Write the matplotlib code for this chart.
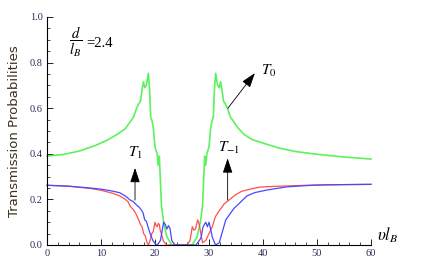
import matplotlib
matplotlib.use("Agg")
import matplotlib.pyplot as plt
from matplotlib.ticker import MultipleLocator

plt.rcParams['mathtext.fontset'] = 'stix'

# T0 (green)
gx = [0, 3, 6, 9, 11, 13, 14.5, 16, 16.6, 17.0, 17.3, 17.6, 17.85, 18.1, 18.4, 18.77, 19.0, 19.2,
      19.45, 19.7, 20.0, 20.4, 20.6, 20.8, 21.2, 21.6, 22.2, 23.1,
      26.9, 27.8, 28.4, 28.8, 29.2, 29.4, 29.6, 30.0, 30.3, 30.55, 30.8, 31.0, 31.23, 31.6, 31.9,
      32.15, 32.4, 32.7, 33.0, 33.4, 34.0, 35.5, 36.5, 38, 40, 43, 46, 50, 55, 60]
gy = [0.39, 0.397, 0.412, 0.437, 0.458, 0.485, 0.51, 0.56, 0.60, 0.62, 0.63, 0.68, 0.716, 0.69, 0.70,
      0.753, 0.68, 0.56, 0.545, 0.51, 0.43, 0.40, 0.35, 0.39, 0.17, 0.10, 0.036, 0.0,
      0.0, 0.036, 0.10, 0.17, 0.39, 0.35, 0.40, 0.43, 0.51, 0.545, 0.56, 0.68, 0.753, 0.70, 0.69,
      0.716, 0.68, 0.63, 0.62, 0.60, 0.56, 0.51, 0.485, 0.462, 0.447, 0.425, 0.41, 0.398, 0.386, 0.377]

# red curve
rx = [0, 4, 8, 10, 12, 13.5, 14.5, 15.0, 15.4, 16.0, 16.4, 16.9, 17.3, 17.6, 17.9, 18.2, 18.5,
      18.8, 19.1, 19.4, 19.7, 20.0, 20.2, 20.4, 20.6, 20.8, 21.0, 21.2, 21.5, 22.1,
      25.9, 26.5, 26.9, 27.2, 27.5, 27.9, 28.2, 28.8, 29.4, 30.0, 30.6, 31.2, 31.9, 32.8, 33.7,
      34.9, 36.0, 37.6, 39.4, 42, 44.4, 48, 52, 56, 60]
ry = [0.262, 0.258, 0.248, 0.24, 0.228, 0.215, 0.20, 0.19, 0.17, 0.155, 0.14, 0.115, 0.09, 0.08,
      0.05, 0.04, 0.012, 0.0, 0.02, 0.05, 0.06, 0.10, 0.085, 0.08, 0.095, 0.09, 0.06, 0.05, 0.02,
      0.0, 0.0, 0.02, 0.08, 0.065, 0.07, 0.11, 0.09, 0.01, 0.02, 0.05, 0.08, 0.125, 0.15, 0.18,
      0.197, 0.22, 0.235, 0.245, 0.254, 0.257, 0.259, 0.262, 0.264, 0.265, 0.266]

# blue curve
bx = [0, 4, 8, 10, 12, 13.5, 14.5, 15.4, 16.0, 16.6, 17.1, 17.5, 17.8, 18.1, 18.4, 18.7, 19.1,
      19.6, 20.2, 20.6, 21.0, 21.3, 21.6, 21.9, 22.2, 22.5, 22.8, 23.1, 23.7,
      27.6, 28.5, 28.9, 29.4, 29.7, 30.0, 30.3, 30.6, 31.2, 31.9, 32.5, 33.1, 33.7, 34.6, 35.5,
      37.0, 38.5, 40.7, 42.5, 44.4, 47, 50, 55, 60]
by = [0.262, 0.258, 0.25, 0.245, 0.237, 0.229, 0.215, 0.197, 0.19, 0.175, 0.165, 0.153, 0.14,
      0.11, 0.105, 0.08, 0.05, 0.02, 0.0, 0.005, 0.02, 0.06, 0.10, 0.09, 0.07, 0.085, 0.07, 0.02,
      0.0, 0.0, 0.03, 0.08, 0.10, 0.08, 0.10, 0.07, 0.035, 0.0, 0.01, 0.06, 0.11, 0.13, 0.16,
      0.18, 0.215, 0.23, 0.241, 0.248, 0.255, 0.259, 0.263, 0.265, 0.266]

xticks = [0, 10, 20, 30, 40, 50, 60]
yticks = [0.0, 0.2, 0.4, 0.6, 0.8, 1.0]

fig = plt.figure(figsize=(4.36, 2.73), dpi=100)
ax = fig.add_axes([47/436, 28/273, 324/436, 228/273])

ax.plot(gx, gy, color='#5cf25c', lw=1.2, clip_on=False)
ax.plot(rx, ry, color='#ff5050', lw=0.9, clip_on=False)
ax.plot(bx, by, color='#4848ff', lw=0.9, clip_on=False)

ax.set_xlim(0, 60)
ax.set_ylim(0, 1.0)
for s in ['top', 'right']:
    ax.spines[s].set_visible(False)
for s in ['left', 'bottom']:
    ax.spines[s].set_linewidth(0.8)

ax.set_xticks(xticks)
ax.set_yticks(yticks)
ax.set_xticklabels([str(t) for t in xticks])
ax.set_yticklabels(['%.1f' % t for t in yticks])
ax.xaxis.set_minor_locator(MultipleLocator(2))
ax.yaxis.set_minor_locator(MultipleLocator(0.05))
ax.tick_params(which='major', direction='in', length=4, width=0.6, labelsize=7.5,
               labelcolor='#2b2b5a', pad=3)
ax.tick_params(which='minor', direction='in', length=2, width=0.5)
for lab in ax.get_xticklabels() + ax.get_yticklabels():
    lab.set_family('Liberation Serif')

ax.set_ylabel('Transmission Probabilities', fontsize=9.5, color='#3a3020', labelpad=6)

ax.text(0.088, 0.89, r'$\dfrac{d}{l_B}$', transform=ax.transAxes, fontsize=10.5, ha='center', va='center')
ax.text(0.122, 0.885, '=2.4', transform=ax.transAxes, fontsize=10.5, ha='left', va='center',
        family='Liberation Serif')

ax.text(1.02, 0.0, r'$\upsilon l_B$', transform=ax.transAxes, fontsize=12, ha='left', va='bottom')

arrow = dict(arrowstyle='-|>,head_length=0.9,head_width=0.3', color='black', lw=0.6,
             shrinkA=0, shrinkB=0)
ax.annotate('', xy=(38.5, 0.754), xytext=(33.5, 0.60), arrowprops=arrow)
ax.text(39.6, 0.765, r'$T_0$', fontsize=11, ha='left', va='center')

ax.annotate('', xy=(16.3, 0.338), xytext=(16.3, 0.197), arrowprops=arrow)
ax.text(16.3, 0.405, r'$T_1$', fontsize=11, ha='center', va='center')

ax.annotate('', xy=(33.45, 0.38), xytext=(33.45, 0.197), arrowprops=arrow)
ax.text(33.7, 0.425, r'$T_{-1}$', fontsize=11, ha='center', va='center')

fig.savefig('out.png', dpi=100)
